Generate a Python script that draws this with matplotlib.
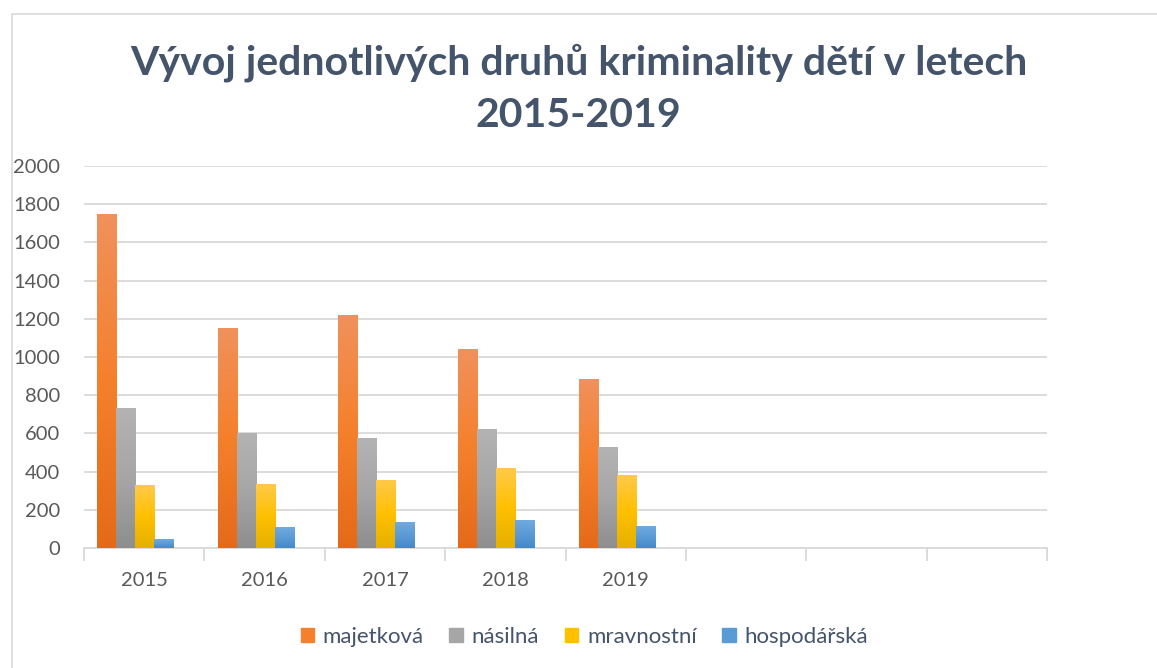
import numpy as np
import matplotlib.pyplot as plt
from matplotlib.colors import LinearSegmentedColormap
from matplotlib.patches import Rectangle

plt.rcParams['font.family'] = ['Lato', 'DejaVu Sans']

# data
years = ["2015", "2016", "2017", "2018", "2019", "", "", ""]
series = ["majetková", "násilná", "mravnostní", "hospodářská"]
majetkova = [1745, 1150, 1218, 1040, 882]
nasilna = [728, 597, 575, 623, 528]
mravnostni = [329, 333, 355, 418, 381]
hospodarska = [44, 108, 133, 144, 112]

# top, middle, bottom colours of each gradient
grads = [
    ["#F0915C", "#F5802C", "#E46A18"],
    ["#B3B3B3", "#A6A6A6", "#8E8E8E"],
    ["#FFC94A", "#FFC000", "#E5B000"],
    ["#70AADF", "#5B9BD5", "#4488CC"],
]

fig = plt.figure(figsize=(11.57, 6.68), dpi=100)
ax = fig.add_axes([84/1157, 1 - 548/668, (1047 - 84)/1157, (548 - 166)/668])

# outer chart frame (cropped on the right and bottom)
fig.patches.append(Rectangle((12/1157, -0.1), 1.2, 1.1 - 14/668,
                             transform=fig.transFigure, fill=False,
                             edgecolor="#D9D9D9", lw=1.2))

n = len(years)
x = np.arange(n)
w = 0.158
left_gap = 0.11
vals = [majetkova, nasilna, mravnostni, hospodarska]

for j, (name, v) in enumerate(zip(series, vals)):
    pos = x[:len(v)] - 0.5 + left_gap + (j + 0.5) * w
    bars = ax.bar(pos, v, width=w, color=grads[j][1], label=name, zorder=3,
                  linewidth=0)
    cmap = LinearSegmentedColormap.from_list("g%d" % j, grads[j][::-1])
    grad = np.linspace(0, 1, 256).reshape(-1, 1)
    for b in bars:
        bx, by = b.get_x(), b.get_y()
        bw, bh = b.get_width(), b.get_height()
        ax.imshow(grad, cmap=cmap, origin="lower", aspect="auto",
                  extent=[bx, bx + bw, by, by + bh], zorder=3.5)
        b.set_facecolor("none")

ax.set_xlim(-0.5, n - 0.5)
ax.set_ylim(0, 2000)
ax.set_yticks(np.arange(0, 2001, 200))
ax.set_xticks(x)
ax.set_xticklabels(years)
ax.set_xticks(np.arange(-0.5, n, 1), minor=True)

ax.grid(axis="y", color="#D9D9D9", lw=1.3, zorder=0)
for s in ["top", "right", "left"]:
    ax.spines[s].set_visible(False)
ax.spines["bottom"].set_color("#D9D9D9")
ax.spines["bottom"].set_linewidth(1.3)

ax.tick_params(axis="y", length=0, pad=17, labelsize=14.5, labelcolor="#595959")
ax.tick_params(axis="x", which="major", length=0, pad=17, labelsize=14.5,
               labelcolor="#595959")
ax.tick_params(axis="x", which="minor", length=9, width=1.3, color="#D9D9D9")

fig.text(0.5, 1 - 89/668, "Vývoj jednotlivých druhů kriminality dětí v letech\n2015-2019",
         ha="center", va="center", fontsize=29.5, fontweight="bold",
         color="#44546A", linespacing=1.5)

handles = [Rectangle((0, 0), 1, 1, color=grads[j][1]) for j in range(4)]
fig.legend(handles, series, loc="center", bbox_to_anchor=(0.505, 1 - 637/668),
           ncol=4, frameon=False, fontsize=16, handlelength=0.6,
           handleheight=0.6, handletextpad=0.4, columnspacing=1.15,
           labelcolor="#44546A")

fig.savefig("out.png", dpi=100)
